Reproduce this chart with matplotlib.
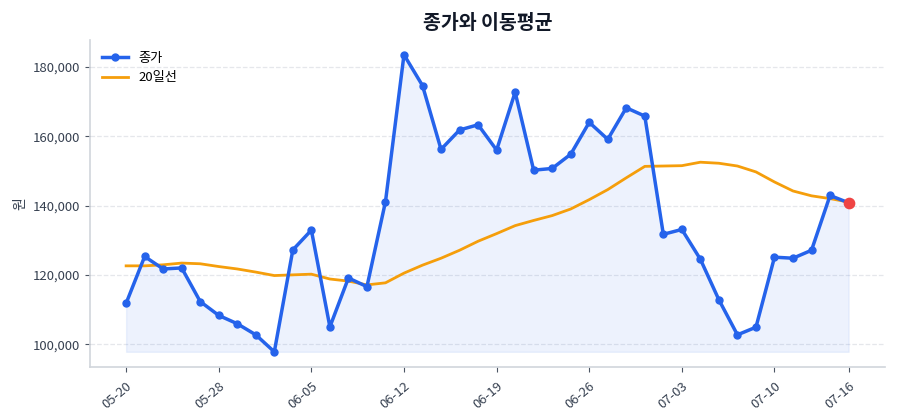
import matplotlib
import matplotlib.pyplot as plt
import numpy as np
from matplotlib.ticker import FuncFormatter

matplotlib.use("Agg")

plt.rcParams["font.family"] = ["Noto Sans CJK KR", "DejaVu Sans"]

dates = [
    "05-20", "05-21", "05-22", "05-23", "05-24", "05-28", "05-29", "05-30",
    "05-31", "06-04", "06-05", "06-06", "06-07", "06-10", "06-11", "06-12",
    "06-13", "06-14", "06-17", "06-18", "06-19", "06-20", "06-21", "06-24",
    "06-25", "06-26", "06-27", "06-28", "07-01", "07-02", "07-03", "07-04",
    "07-05", "07-08", "07-09", "07-10", "07-11", "07-12", "07-15", "07-16",
]
close = [
    111800, 125300, 121700, 122000, 112300, 108300, 105900, 102700,
    97800, 127200, 132900, 105000, 119100, 116600, 141100, 183500,
    174600, 156200, 161800, 163300, 156000, 172700, 150200, 150700,
    154800, 164000, 159100, 168200, 165800, 131700, 133100, 124500,
    112800, 102700, 104900, 125100, 124800, 127100, 142900, 140800,
]
ma20 = [
    122600, 122600, 122900, 123400, 123200, 122400, 121700, 120800,
    119800, 120000, 120200, 118800, 118200, 117100, 117700, 120500,
    122800, 124800, 127100, 129700, 131900, 134200, 135700, 137100,
    139000, 141700, 144600, 148000, 151300, 151400, 151500, 152500,
    152200, 151400, 149700, 146800, 144200, 142800, 142000, 141000,
]
tick_idx = [0, 5, 10, 15, 20, 25, 30, 35, 39]

x = np.arange(len(close))
blue = "#2563eb"
orange = "#f59e0b"

fig, ax = plt.subplots(figsize=(9, 4.2), dpi=100)
ax.fill_between(x, close, min(close), color=blue, alpha=0.08, lw=1)
ax.plot(x, close, "-o", color=blue, lw=2.5, ms=5, label="종가", zorder=3)
ax.plot(x, ma20, "-", color=orange, lw=2, label="20일선", zorder=2)
ax.scatter([x[-1]], [close[-1]], s=55, color="#ef4444", zorder=5)

ax.set_xticks(tick_idx)
ax.set_xticklabels([dates[i] for i in tick_idx], rotation=40, ha="right",
                   rotation_mode="anchor")
ax.yaxis.set_major_formatter(FuncFormatter(lambda v, _: f"{v:,.0f}"))
ax.set_ylabel("원", color="#374151", fontsize=10)
ax.set_title("종가와 이동평균", fontsize=14, fontweight="bold", color="#111827", pad=8)

for s in ["top", "right"]:
    ax.spines[s].set_visible(False)
for s in ["left", "bottom"]:
    ax.spines[s].set_color("#d1d5db")
    ax.spines[s].set_linewidth(1.2)
ax.tick_params(colors="#4b5563", labelsize=9.5, labelcolor="#374151")
ax.tick_params(axis="x", pad=6)
ax.grid(axis="y", linestyle="--", color="#e5e7eb", lw=0.9)
ax.set_axisbelow(True)
ax.legend(loc="upper left", frameon=False, fontsize=9.5)

fig.subplots_adjust(left=0.1, right=0.983, top=0.905, bottom=0.127)
fig.savefig("out.png", dpi=100)
plt.close(fig)
